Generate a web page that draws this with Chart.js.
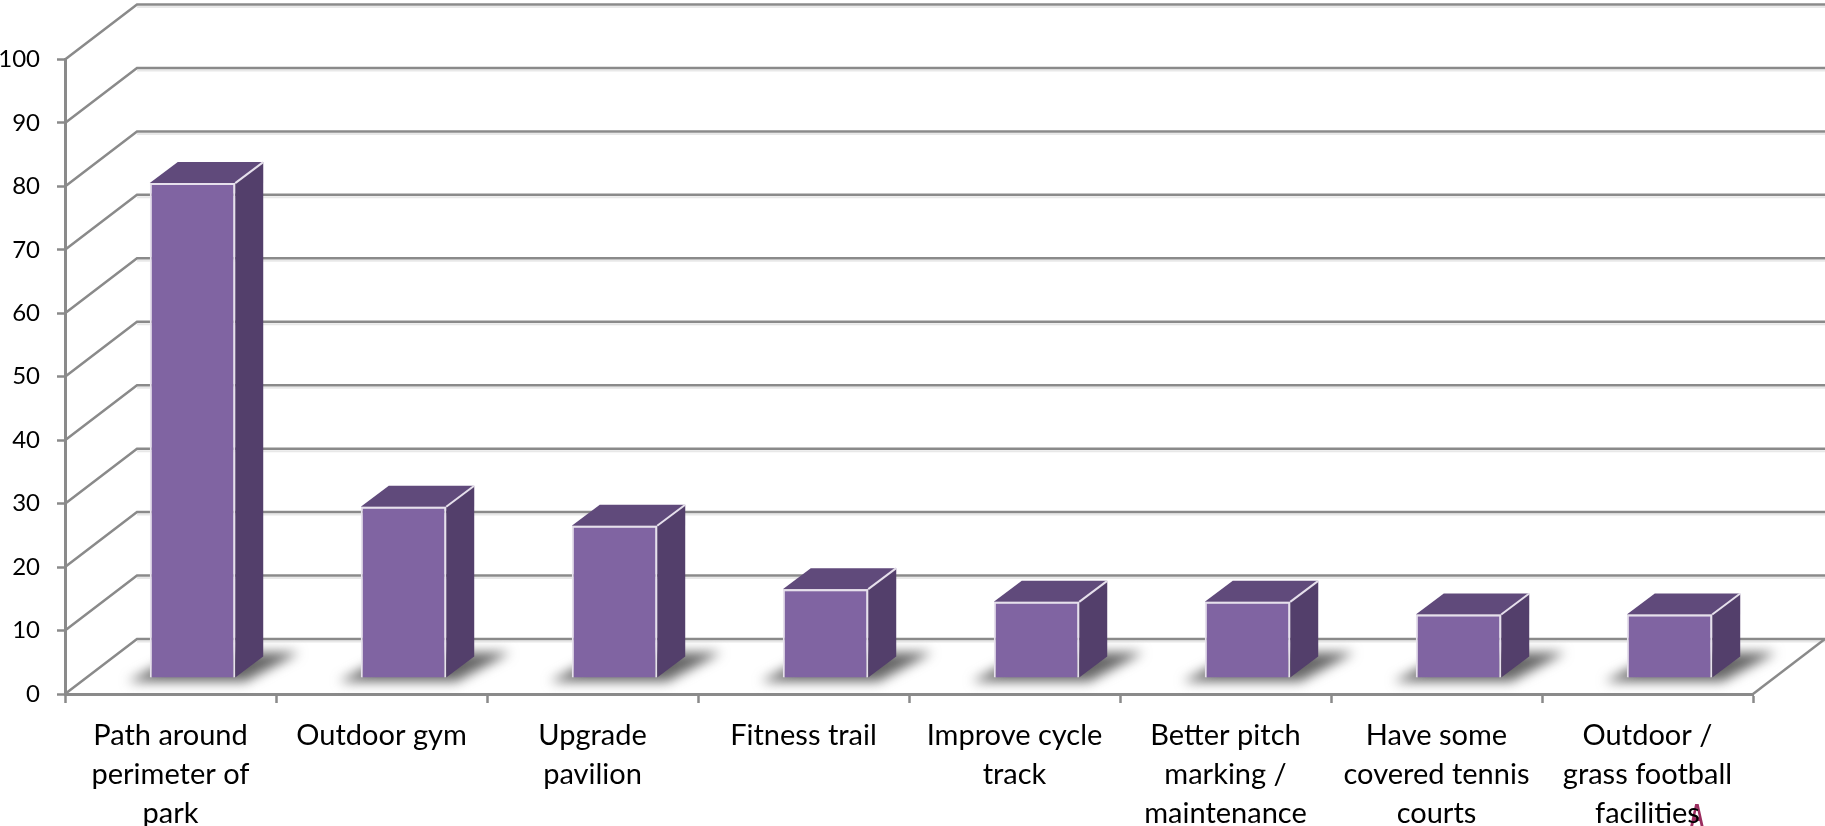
<!DOCTYPE html>
<html><head><meta charset="utf-8">
<style>html,body{margin:0;padding:0;background:#fff;overflow:hidden}canvas{display:block}</style>
<script src="https://cdn.jsdelivr.net/npm/chart.js@4"></script>
</head><body><canvas id="c" width="1825" height="826"></canvas>
<script>
const categories = [
  ["Path around","perimeter of","park"],
  ["Outdoor gym"],
  ["Upgrade","pavilion"],
  ["Fitness trail"],
  ["Improve cycle","track"],
  ["Better pitch","marking /","maintenance"],
  ["Have some","covered tennis","courts"],
  ["Outdoor /","grass football","facilities"]
];
const seriesValues = [78, 27, 24, 14, 12, 12, 10, 10];
const yTicks = [0,10,20,30,40,50,60,70,80,90,100];

const AXIS = '#8a8a8a';
const WALL = {dx:72, dy:-55};      // wall depth projection
const BAR_OFFSET = {dx:22, dy:-16}; // bar plane inside the floor
const BAR_DEPTH = {dx:28, dy:-21};

const wallPlugin = {
  id:'wall',
  beforeDraw(chart){
    const ctx=chart.ctx;
    ctx.save();
    ctx.font='bold 33px "Liberation Sans"'; ctx.fillStyle='#9b2d5f'; ctx.textAlign='center'; ctx.textBaseline='alphabetic';
    ctx.translate(1697,827); ctx.scale(0.62,1);
    ctx.fillText('A',0,0);
    ctx.restore();
  },
  beforeDatasetsDraw(chart){
    const {ctx, scales:{x,y}} = chart;
    const L = x.left, R = x.right;
    ctx.save();
    ctx.lineCap='butt';
    yTicks.forEach(v=>{
      const p = y.getPixelForValue(v);
      ctx.strokeStyle='#e8e8e8'; ctx.lineWidth=2;
      ctx.beginPath(); ctx.moveTo(L+WALL.dx,p+WALL.dy+2.5); ctx.lineTo(chart.width,p+WALL.dy+2.5); ctx.stroke();
      ctx.strokeStyle=AXIS; ctx.lineWidth=2.5;
      ctx.beginPath(); ctx.moveTo(L,p); ctx.lineTo(L+WALL.dx,p+WALL.dy); ctx.lineTo(chart.width,p+WALL.dy); ctx.stroke();
    });
    const p0 = y.getPixelForValue(0);
    ctx.beginPath(); ctx.moveTo(R,p0); ctx.lineTo(R+WALL.dx,p0+WALL.dy); ctx.stroke();
    // floor shadows
    const bars = chart.getDatasetMeta(0).data;
    bars.forEach(b=>{
      const l = b.x-b.width/2+BAR_OFFSET.dx, r = b.x+b.width/2+BAR_OFFSET.dx, by = b.base+BAR_OFFSET.dy;
      ctx.save();
      ctx.filter='blur(6px)';
      ctx.fillStyle='#666';
      ctx.beginPath();
      ctx.moveTo(l-22,by+4); ctx.lineTo(r+10,by+4); ctx.lineTo(r+64,by-25); ctx.lineTo(l+34,by-25); ctx.closePath();
      ctx.fill();
      ctx.restore();
    });
    ctx.restore();
  },
  beforeDatasetDraw(chart){
    chart.ctx.save();
    chart.ctx.translate(BAR_OFFSET.dx,BAR_OFFSET.dy);
    // side and top faces, behind the front face
    const ctx=chart.ctx;
    chart.getDatasetMeta(0).data.forEach(b=>{
      const l=b.x-b.width/2, r=b.x+b.width/2, t=b.y, bt=b.base, d=BAR_DEPTH;
      ctx.lineWidth=2; ctx.strokeStyle='#e6e0ec'; ctx.lineJoin='round';
      ctx.fillStyle='#533F6B';
      ctx.beginPath(); ctx.moveTo(r,t); ctx.lineTo(r+d.dx,t+d.dy); ctx.lineTo(r+d.dx,bt+d.dy); ctx.lineTo(r,bt); ctx.closePath(); ctx.fill();
      ctx.fillStyle='#604A7B';
      ctx.beginPath(); ctx.moveTo(l,t); ctx.lineTo(l+d.dx,t+d.dy); ctx.lineTo(r+d.dx,t+d.dy); ctx.lineTo(r,t); ctx.closePath(); ctx.fill();
      ctx.beginPath(); ctx.moveTo(r,t); ctx.lineTo(r+d.dx,t+d.dy); ctx.stroke();
    });
  },
  afterDatasetDraw(chart){ chart.ctx.restore(); }
};

new Chart(document.getElementById('c'),{
  type:'bar',
  data:{labels:categories,datasets:[{
    data:seriesValues,
    backgroundColor:'#8064A2',
    borderColor:'#e6e0ec',
    borderWidth:2,
    barPercentage:0.405,
    categoryPercentage:1
  }]},
  plugins:[wallPlugin],
  options:{
    responsive:false,animation:false,
    layout:{padding:{top:59.5,right:72,left:0,bottom:0}},
    plugins:{legend:{display:false},tooltip:{enabled:false}},
    scales:{
      x:{
        offset:true,
        afterFit(s){s.height=132;},
        grid:{offset:true,drawOnChartArea:false,drawTicks:true,tickLength:9,tickColor:AXIS,tickWidth:2.5},
        border:{color:AXIS,width:3},
        ticks:{color:'#000',maxRotation:0,autoSkip:false,padding:13,font:{family:'Lato',size:29,lineHeight:'39px'}}
      },
      y:{
        min:0,max:100,
        afterFit(s){s.width=65;},
        grid:{drawOnChartArea:false,drawTicks:true,tickLength:8,tickColor:AXIS,tickWidth:2.5},
        border:{color:AXIS,width:3},
        ticks:{stepSize:10,color:'#000',padding:17,font:{family:'Lato',size:24}}
      }
    }
  }
});
</script></body></html>
